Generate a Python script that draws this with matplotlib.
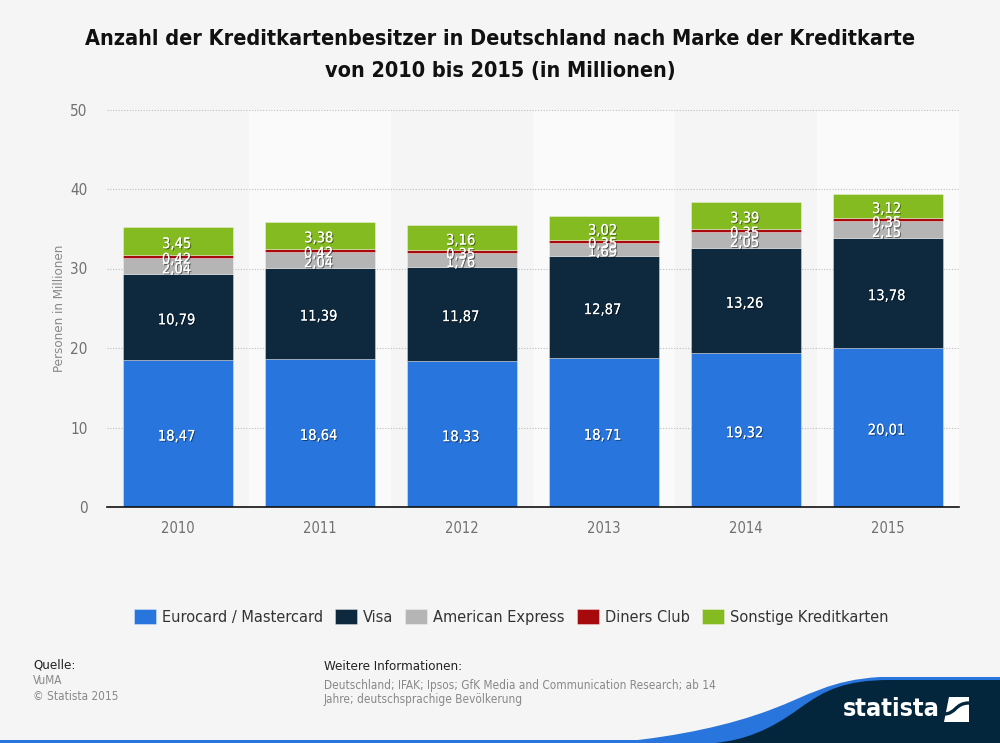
import matplotlib
matplotlib.use('Agg')
import matplotlib.pyplot as plt
import matplotlib.patheffects as pe
from matplotlib.path import Path
from matplotlib.patches import PathPatch, Rectangle, Polygon
import numpy as np

plt.rcParams['font.family'] = ['DejaVu Sans']
plt.rcParams['font.stretch'] = 'condensed'

years = ['2010', '2011', '2012', '2013', '2014', '2015']
eurocard = [18.47, 18.64, 18.33, 18.71, 19.32, 20.01]
visa = [10.79, 11.39, 11.87, 12.87, 13.26, 13.78]
amex = [2.04, 2.04, 1.76, 1.69, 2.05, 2.15]
diners = [0.42, 0.42, 0.35, 0.35, 0.35, 0.35]
sonstige = [3.45, 3.38, 3.16, 3.02, 3.39, 3.12]

names = ['Eurocard / Mastercard', 'Visa', 'American Express', 'Diners Club', 'Sonstige Kreditkarten']
colors = ['#2875dd', '#0e283d', '#b5b5b5', '#a60a0d', '#84bb21']
series = [eurocard, visa, amex, diners, sonstige]

BG = '#f5f5f5'
W, H = 1000, 743

fig = plt.figure(figsize=(10, 7.43), dpi=100, facecolor=BG)
ax = fig.add_axes([107 / W, 1 - 507 / H, 852 / W, 397.5 / H], facecolor=BG)

x = np.arange(len(years))
ax.set_xlim(-0.5, 5.5)
ax.set_ylim(0, 50)

for i in [1, 3, 5]:
    ax.axvspan(i - 0.5, i + 0.5, color='#fafafa', lw=0, zorder=0)
ax.yaxis.grid(True, color='#bdbdbd', linestyle=(0, (1, 1.5)), linewidth=0.8, zorder=1)
ax.set_axisbelow(True)

shadow = [pe.withSimplePatchShadow(offset=(0.8, -0.8), shadow_rgbFace='#000000', alpha=0.45), pe.Normal()]
bottom = np.zeros(len(years))
for vals, name, col in zip(series, names, colors):
    vals = np.array(vals)
    ax.bar(x, vals, 0.775, bottom=bottom, color=col, edgecolor='#ffffff80', linewidth=0.5, label=name, zorder=2)
    for xi, b, v in zip(x, bottom, vals):
        t = ax.annotate(f'{v:.2f}'.replace('.', ','), (xi, b + v / 2), xytext=(-1, -1.8), textcoords='offset points',
                        ha='center', va='center', color='white', fontsize=10.5, zorder=5)
        t.set_path_effects(shadow)
    bottom = bottom + vals

for s in ['top', 'left', 'right']:
    ax.spines[s].set_visible(False)
ax.spines['bottom'].set_color('#111111')
ax.spines['bottom'].set_linewidth(1.2)
ax.set_xticks(x)
ax.set_xticklabels(years)
ax.set_yticks([0, 10, 20, 30, 40, 50])
ax.tick_params(axis='x', length=0, pad=10, labelsize=10.5, labelcolor='#707070')
ax.tick_params(axis='y', length=0, pad=14, labelsize=11, labelcolor='#707070')
ax.set_ylabel('Personen in Millionen', fontsize=9.5, color='#888888', labelpad=3)

fig.text(500 / W, 1 - 39 / H, 'Anzahl der Kreditkartenbesitzer in Deutschland nach Marke der Kreditkarte',
         ha='center', va='center', fontsize=15.5, fontweight='bold', color='#111111')
fig.text(500 / W, 1 - 71 / H, 'von 2010 bis 2015 (in Millionen)',
         ha='center', va='center', fontsize=15.5, fontweight='bold', color='#111111')

ax.legend(loc='center', bbox_to_anchor=(511 / W, 1 - 617 / H), bbox_transform=fig.transFigure, ncol=5,
          frameon=False, fontsize=11.7, labelcolor='#333333', handlelength=1.36, handleheight=1.1,
          columnspacing=0.75, handletextpad=0.35)

fig.text(33 / W, 1 - 665 / H, 'Quelle:', fontsize=9.5, color='#222222', va='center')
fig.text(33 / W, 1 - 681 / H, 'VuMA', fontsize=8.5, color='#888888', va='center')
fig.text(33 / W, 1 - 697 / H, '© Statista 2015', fontsize=8.5, color='#888888', va='center')
fig.text(324 / W, 1 - 667 / H, 'Weitere Informationen:', fontsize=9.5, color='#222222', va='center')
fig.text(324 / W, 1 - 685 / H, 'Deutschland; IFAK; Ipsos; GfK Media and Communication Research; ab 14',
         fontsize=8.5, color='#888888', va='center')
fig.text(324 / W, 1 - 700 / H, 'Jahre; deutschsprachige Bevölkerung', fontsize=8.5, color='#888888', va='center')

# footer swoosh, pixel coordinates
deco = fig.add_axes([0, 0, 1, 1], facecolor='none', zorder=-1)
deco.set_xlim(0, W)
deco.set_ylim(H, 0)
deco.axis('off')
deco.add_patch(Rectangle((0, 740), 1000, 3, color='#2875dd', lw=0))
blue = Path([(620, 742), (680, 736), (730, 725), (770, 710), (810, 695), (830, 680), (880, 677),
             (1000, 677), (1000, 743), (620, 743), (620, 742)],
            [Path.MOVETO, Path.CURVE4, Path.CURVE4, Path.CURVE4, Path.CURVE4, Path.CURVE4, Path.CURVE4,
             Path.LINETO, Path.LINETO, Path.LINETO, Path.CLOSEPOLY])
deco.add_patch(PathPatch(blue, facecolor='#2875dd', lw=0))
dark = Path([(715, 743), (745, 740), (770, 730), (800, 708), (825, 690), (845, 680), (890, 680),
             (1000, 680), (1000, 743), (715, 743)],
            [Path.MOVETO, Path.CURVE4, Path.CURVE4, Path.CURVE4, Path.CURVE4, Path.CURVE4, Path.CURVE4,
             Path.LINETO, Path.LINETO, Path.CLOSEPOLY])
deco.add_patch(PathPatch(dark, facecolor='#04263c', lw=0))

deco.text(843, 709, 'statista', fontsize=18, fontweight='bold', color='white', va='center', ha='left')
deco.add_patch(Polygon([(949, 697), (969, 697), (969, 722), (944, 722)], closed=True, color='white', lw=0))
logo_s = Path([(944, 714), (956, 714), (955, 703), (969, 703)],
              [Path.MOVETO, Path.CURVE4, Path.CURVE4, Path.CURVE4])
deco.add_patch(PathPatch(logo_s, facecolor='none', edgecolor='#04263c', lw=2.4))

fig.savefig('out.png', dpi=100, facecolor=BG)
